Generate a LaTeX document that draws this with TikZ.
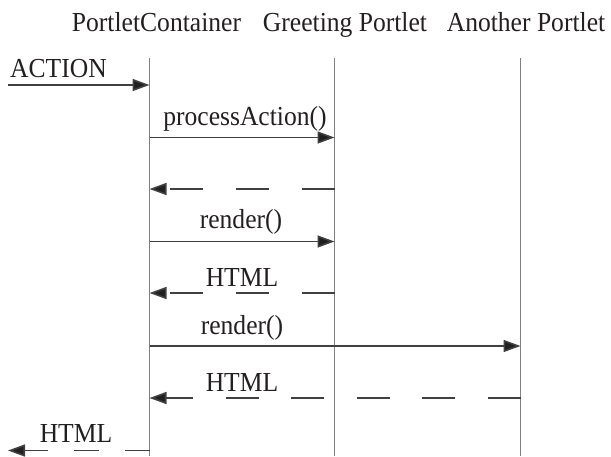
\documentclass[tikz,border=0pt]{standalone}
\usepackage{fontspec}
\setmainfont[FakeStretch=0.93]{Liberation Serif}
\usetikzlibrary{arrows.meta}
\definecolor{lifegray}{HTML}{808080}
\definecolor{msggray}{HTML}{404040}
\definecolor{txt}{HTML}{231F20}
\begin{document}
\begin{tikzpicture}[x=1pt,y=-1pt,
  lbl/.style={inner sep=0pt, anchor=base, font=\fontsize{27.5}{32}\selectfont, text=txt},
  life/.style={draw=lifegray, line width=1.4pt},
  msg/.style={draw=msggray, line width=1.6pt, -{Triangle[length=17pt,width=12pt,fill=txt]}},
  retA/.style={msg, dash pattern=on 33pt off 33pt},
  retB/.style={msg, dash pattern=on 25pt off 26pt},
]
\useasboundingbox (0,0) rectangle (611,456);
% headers
\node[lbl] (h1) at (156.5,31) {PortletContainer};
\node[lbl] (h2) at (345,31) {Greeting Portlet};
\node[lbl] (h3) at (526,31) {Another Portlet};
% lifelines
\coordinate (pcT) at (149.5,58);  \coordinate (pcB) at (149.5,456);
\coordinate (gpT) at (334.5,58);  \coordinate (gpB) at (334.5,456);
\coordinate (apT) at (520.5,58);  \coordinate (apB) at (520.5,456);
\draw[life] (pcT) -- (pcB);
\draw[life] (gpT) -- (gpB);
\draw[life] (apT) -- (apB);
% ACTION
\coordinate (a0) at (8,85);   \coordinate (a1) at (149.5,85);
\draw[msg] (a0) -- (a1);
\node[lbl, anchor=base west] (lact) at (10,77) {ACTION};
% processAction()
\coordinate (p0) at (149.5,137.5); \coordinate (p1) at (334.5,137.5);
\draw[msg] (p0) -- (p1);
\node[lbl] (lpa) at (245,125) {processAction()};
% return
\coordinate (r0) at (334.5,189); \coordinate (r1) at (149.5,189);
\draw[retA] (r0) -- (r1);
% render() 1
\coordinate (d0) at (149.5,241.5); \coordinate (d1) at (334.5,241.5);
\draw[msg] (d0) -- (d1);
\node[lbl] (lr1) at (241,228.5) {render()};
% HTML 1
\coordinate (h10) at (334.5,293); \coordinate (h11) at (149.5,293);
\draw[retA] (h10) -- (h11);
\node[lbl] (lh1) at (242,286) {HTML};
% render() 2
\coordinate (e0) at (149.5,346); \coordinate (e1) at (520.5,346);
\draw[msg] (e0) -- (e1);
\node[lbl] (lr2) at (242,334) {render()};
% HTML 2
\coordinate (h20) at (520.5,398); \coordinate (h21) at (149.5,398);
\draw[retA, dash pattern=on 33pt off 32.5pt] (h20) -- (h21);
\node[lbl] (lh2) at (242,391) {HTML};
% HTML out
\coordinate (h30) at (149.5,450.5); \coordinate (h31) at (8,450.5);
\draw[retB] (h30) -- (h31);
\node[lbl] (lh3) at (76,442) {HTML};
\end{tikzpicture}
\end{document}
